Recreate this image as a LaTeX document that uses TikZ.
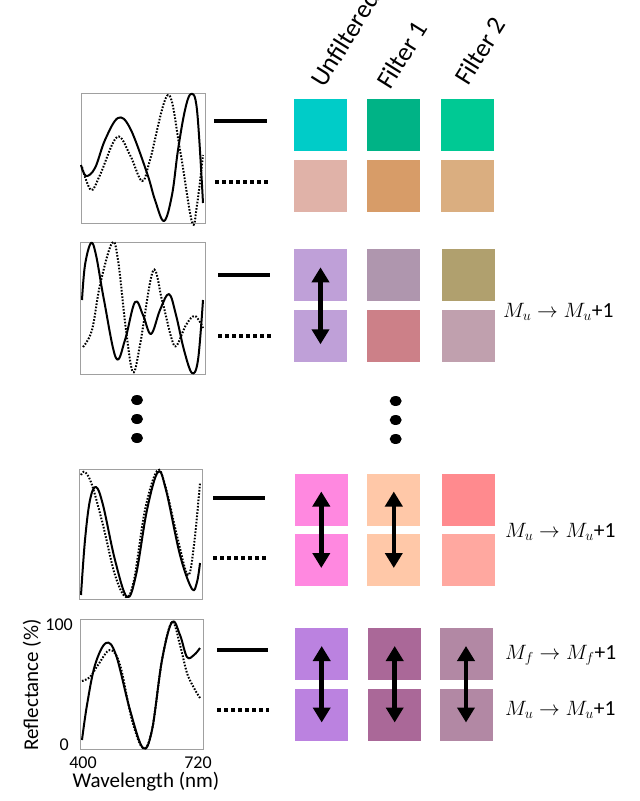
\documentclass[tikz,border=0pt]{standalone}
\usepackage{fontspec}
\setmainfont{Carlito}
\usetikzlibrary{arrows.meta}
\definecolor{ca1}{HTML}{00CCC8}\definecolor{cb1}{HTML}{00B386}\definecolor{cc1}{HTML}{00C994}
\definecolor{ca2}{HTML}{E0B2A8}\definecolor{cb2}{HTML}{D79C68}\definecolor{cc2}{HTML}{DAAE80}
\definecolor{ca3}{HTML}{BFA0D8}\definecolor{cb3}{HTML}{AF96AE}\definecolor{cc3}{HTML}{B0A06E}
\definecolor{ca4}{HTML}{BFA0D8}\definecolor{cb4}{HTML}{CC8088}\definecolor{cc4}{HTML}{C0A0AE}
\definecolor{ca5}{HTML}{FF88E0}\definecolor{cb5}{HTML}{FFC8A8}\definecolor{cc5}{HTML}{FF8A8E}
\definecolor{ca6}{HTML}{FF88E0}\definecolor{cb6}{HTML}{FFC8A8}\definecolor{cc6}{HTML}{FFA8A0}
\definecolor{ca7}{HTML}{BB82E0}\definecolor{cb7}{HTML}{AA6898}\definecolor{cc7}{HTML}{B288A4}
\definecolor{axgray}{HTML}{A0A0A0}
\begin{document}
\begin{tikzpicture}[x=1pt,y=-1pt,
  sq/.style={minimum width=53pt,minimum height=52pt,inner sep=0pt,draw=none},
  plotbox/.style={draw=axgray,line width=1pt},
  solidcurve/.style={line width=2pt,line join=round},
  dotcurve/.style={line width=2pt,dash pattern=on 1.6pt off 1.6pt},
  legsolid/.style={line width=4pt},
  legdot/.style={line width=3.5pt,dash pattern=on 4pt off 3pt},
  dblarrow/.style={line width=4.5pt,{Triangle[width=17pt,length=15pt]}-{Triangle[width=17pt,length=15pt]},shorten <=-8pt,shorten >=-8pt},
  colhead/.style={rotate=58,anchor=base west,font=\fontsize{26}{30}\selectfont,inner sep=0pt},
  axlab/.style={font=\fontsize{21}{25}\selectfont},
  ticklab/.style={font=\fontsize{18}{22}\selectfont,inner sep=1pt},
  mlab/.style={anchor=west,font=\fontsize{21.5}{26}\selectfont,inner sep=0pt},
  bigdot/.style={fill=black,draw=none}
]
\useasboundingbox (0,0) rectangle (640,801);

% column headers
\node[colhead] (hu) at (324,89) {Unfiltered};
\node[colhead] (h1) at (390,91) {Filter 1};
\node[colhead] (h2) at (468,87) {Filter 2};

% ---------- row 1 ----------
\draw[plotbox] (81,93) rectangle (205,223);
\draw[solidcurve] plot[smooth,tension=0.6] coordinates {(81,165) (86,176) (95,168) (105,140) (118,118) (130,128) (147,173) (155,200) (164,221) (172,195) (178,150) (185,110) (191,94) (197,110) (203,203)};
\draw[dotcurve] plot[smooth,tension=0.6] coordinates {(82,167) (91,190) (100,175) (117,137) (130,155) (142,181) (150,160) (168,95) (180,150) (192,222) (197,205) (203,155)};
\draw[legsolid] (214,121) -- (267,121);
\draw[legdot] (215,182) -- (268,182);
\node[sq,fill=ca1] (s11) at (320,125) {};
\node[sq,fill=cb1] (s12) at (393,125) {};
\node[sq,fill=cc1] (s13) at (467,125) {};
\node[sq,fill=ca2] (s21) at (320,185.5) {};
\node[sq,fill=cb2] (s22) at (393,185.5) {};
\node[sq,fill=cc2] (s23) at (467,185.5) {};

% ---------- row 2 ----------
\draw[plotbox] (80,242) rectangle (205,374);
\draw[solidcurve] plot[smooth,tension=0.6] coordinates {(82,300) (85,265) (91,243) (96,255) (104,300) (116,358) (125,340) (135,302) (143,315) (151,334) (160,310) (169,294) (176,315) (184,350) (192,373) (198,360) (203,300)};
\draw[dotcurve] plot[smooth,tension=0.6] coordinates {(83,347) (92,330) (100,285) (112,243) (118,260) (126,330) (133,372) (140,345) (153,271) (162,300) (172,340) (177,345) (186,325) (195,316) (203,328)};
\draw[legsolid] (218,275) -- (270,275);
\draw[legdot] (218,336) -- (272,336);
\node[sq,fill=ca3] (s31) at (320.5,275.3) {};
\node[sq,fill=cb3] (s32) at (393.3,275.3) {};
\node[sq,fill=cc3] (s33) at (468,275.3) {};
\node[sq,fill=ca4] (s41) at (320.5,336.3) {};
\node[sq,fill=cb4] (s42) at (393.3,336.3) {};
\node[sq,fill=cc4] (s43) at (468,336.3) {};
\draw[dblarrow] (s31.center) -- (s41.center);
\node[mlab] (m2) at (503,312) {$M_u\rightarrow M_u$+1};

% ---------- dots ----------
\fill[bigdot] (137,400) ellipse (6pt and 5pt);
\fill[bigdot] (137,419) ellipse (6pt and 5pt);
\fill[bigdot] (137,438) ellipse (6pt and 5pt);
\fill[bigdot] (395.7,401) ellipse (6pt and 5pt);
\fill[bigdot] (395.7,420) ellipse (6pt and 5pt);
\fill[bigdot] (395.7,439) ellipse (6pt and 5pt);

% ---------- row 3 ----------
\draw[plotbox] (79,469) rectangle (202,599);
\draw[solidcurve] plot[smooth,tension=0.6] coordinates {(81,595) (85,540) (90,500) (96,487) (103,505) (115,560) (127,597) (136,575) (147,510) (158,472) (166,490) (180,555) (192,589) (197,582) (200,563)};
\draw[dotcurve] plot[smooth,tension=0.6] coordinates {(81,475) (85,472) (92,485) (103,525) (115,575) (126,597) (134,580) (145,510) (157,471) (165,485) (178,540) (188,575) (194,545) (200,483)};
\draw[legsolid] (213,498) -- (265,498);
\draw[legdot] (213,558) -- (267,558);
\node[sq,fill=ca5] (s51) at (321.3,499.5) {};
\node[sq,fill=cb5] (s52) at (393.8,499.5) {};
\node[sq,fill=cc5] (s53) at (468.7,499.5) {};
\node[sq,fill=ca6] (s61) at (321.3,560) {};
\node[sq,fill=cb6] (s62) at (393.8,560) {};
\node[sq,fill=cc6] (s63) at (468.7,560) {};
\draw[dblarrow] (s51.center) -- (s61.center);
\draw[dblarrow] (s52.center) -- (s62.center);
\node[mlab] (m3) at (505,532) {$M_u\rightarrow M_u$+1};

% ---------- row 4 ----------
\draw[plotbox] (80,619) rectangle (203,749);
\draw[solidcurve] plot[smooth,tension=0.6] coordinates {(82,740) (87,705) (95,665) (106,643) (116,655) (130,710) (143,748) (152,730) (162,660) (172,622) (180,635) (187,657) (194,655) (200,648)};
\draw[dotcurve] plot[smooth,tension=0.6] coordinates {(82,681) (90,677) (98,665) (110,650) (120,665) (132,720) (143,748) (152,730) (162,660) (172,622) (180,645) (187,673) (194,688) (200,698)};
\draw[legsolid] (217,650) -- (268,650);
\draw[legdot] (217,710) -- (269,710);
\node[sq,fill=ca7] (s71) at (321.7,654) {};
\node[sq,fill=cb7] (s72) at (394.7,654) {};
\node[sq,fill=cc7] (s73) at (466,654) {};
\node[sq,fill=ca7] (s81) at (321.7,714.5) {};
\node[sq,fill=cb7] (s82) at (394.7,714.5) {};
\node[sq,fill=cc7] (s83) at (466,714.5) {};
\draw[dblarrow] (s71.center) -- (s81.center);
\draw[dblarrow] (s72.center) -- (s82.center);
\draw[dblarrow] (s73.center) -- (s83.center);
\node[mlab] (m4f) at (505,655) {$M_f\rightarrow M_f$+1};
\node[mlab] (m4u) at (505,710) {$M_u\rightarrow M_u$+1};

% axis labels
\node[ticklab,anchor=east] (t100) at (74,625) {100};
\node[ticklab,anchor=east] (t0) at (70,745) {0};
\node[ticklab] (t400) at (83,763) {400};
\node[ticklab] (t720) at (198,763) {720};
\node[axlab] (xl) at (146,782) {Wavelength (nm)};
\node[axlab,rotate=90] (yl) at (32,685) {Reflectance (\%)};
\end{tikzpicture}
\end{document}
